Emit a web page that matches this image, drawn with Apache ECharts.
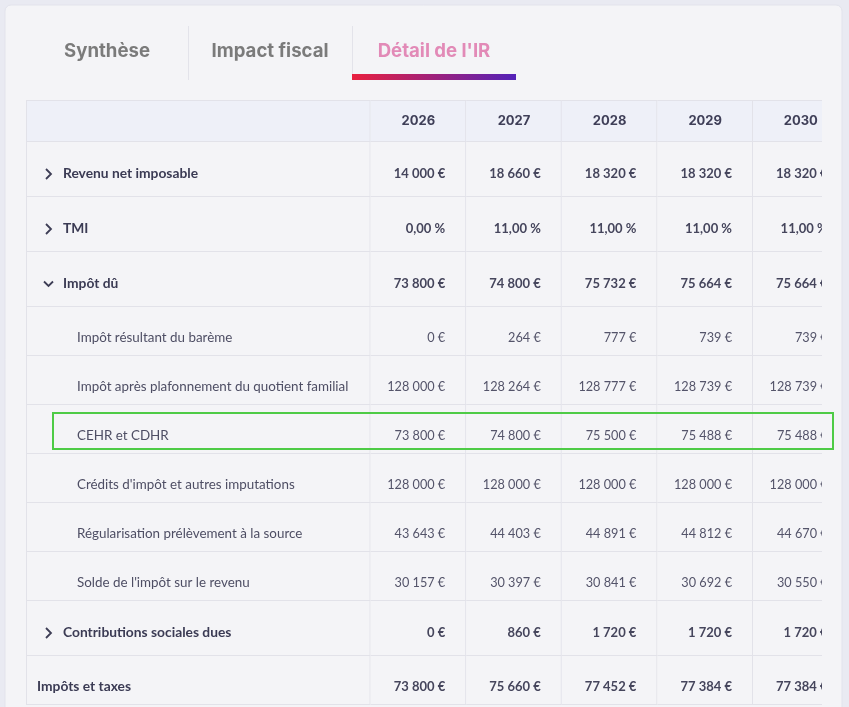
<!DOCTYPE html>
<html>
<head>
<meta charset="utf-8">
<script src="https://cdn.jsdelivr.net/npm/echarts@6/dist/echarts.min.js"></script>
<style>
  html, body { margin: 0; padding: 0; background: #e9eaf2; }
  #chart { width: 849px; height: 707px; }
</style>
</head>
<body>
<div id="chart"></div>
<script>
var tabLabels = ['Synthèse', 'Impact fiscal', "Détail de l'IR"];
var years = ['2026', '2027', '2028', '2029', '2030'];

var rowLabels = [
    'Revenu net imposable',
    'TMI',
    'Impôt dû',
    'Impôt résultant du barème',
    'Impôt après plafonnement du quotient familial',
    'CEHR et CDHR',
    "Crédits d'impôt et autres imputations",
    'Régularisation prélèvement à la source',
    "Solde de l'impôt sur le revenu",
    'Contributions sociales dues',
    'Impôts et taxes'
];
// closed / open = groupe replié ou déplié, child = sous-ligne, total = ligne finale
var rowLevels = ['closed', 'closed', 'open', 'child', 'child', 'child', 'child', 'child', 'child', 'closed', 'total'];
var rowUnits = ['eur', 'pct', 'eur', 'eur', 'eur', 'eur', 'eur', 'eur', 'eur', 'eur', 'eur'];

var revenuNet = [14000, 18660, 18320, 18320, 18320];
var tmi = [0, 11, 11, 11, 11];
var impotDu = [73800, 74800, 75732, 75664, 75664];
var impotBareme = [0, 264, 777, 739, 739];
var impotPlafonnement = [128000, 128264, 128777, 128739, 128739];
var cehrCdhr = [73800, 74800, 75500, 75488, 75488];
var credits = [128000, 128000, 128000, 128000, 128000];
var regularisation = [43643, 44403, 44891, 44812, 44670];
var solde = [30157, 30397, 30841, 30692, 30550];
var contributions = [0, 860, 1720, 1720, 1720];
var impotsTaxes = [73800, 75660, 77452, 77384, 77384];

var rowValues = [revenuNet, tmi, impotDu, impotBareme, impotPlafonnement, cehrCdhr,
    credits, regularisation, solde, contributions, impotsTaxes];

var highlightRow = 5; // CEHR et CDHR

// mise en page (px)
var labelWidth = 344.6;
var colWidth = 95.6;
var headerHeight = 42;
var groupHeight = 55;
var childHeight = 49;
var tableFont = 'Lato';
var lineColor = '#e2e2e9';

function fmtEuro(v) {
    return String(v).replace(/\B(?=(\d{3})+(?!\d))/g, ' ') + ' €';
}
function fmtPct(v) {
    return v.toFixed(2).replace('.', ',') + ' %';
}

// bords des lignes (en px depuis le haut du tableau)
var rowEdges = [0, headerHeight];
rowLevels.forEach(function (lv) {
    var h = (lv == 'child' || lv == 'total') ? childHeight : groupHeight;
    rowEdges.push(rowEdges[rowEdges.length - 1] + h);
});
var tableHeight = rowEdges[rowEdges.length - 1];

function colLeft(c) { return c == 0 ? 0 : labelWidth + (c - 1) * colWidth; }
function colRight(c) { return c == 0 ? labelWidth : labelWidth + c * colWidth; }

var cells = [];
for (var r = 0; r <= rowLabels.length; r++) {
    for (var c = 0; c <= years.length; c++) {
        cells.push([c, r]);
    }
}

function renderCell(params, api) {
    var c = api.value(0), r = api.value(1);
    var p0 = api.coord([colLeft(c), rowEdges[r]]);
    var p1 = api.coord([colRight(c), rowEdges[r + 1]]);
    var x0 = p0[0], y0 = p0[1], x1 = p1[0], y1 = p1[1];
    var children = [];
    children.push({
        type: 'rect',
        shape: { x: x0, y: y0, width: x1 - x0, height: y1 - y0 },
        style: { fill: r == 0 ? '#eef0f8' : '#f4f4f7' }
    });
    var ln = { stroke: lineColor, lineWidth: 1 };
    children.push({ type: 'line', shape: { x1: x0, y1: y1 - 0.5, x2: x1, y2: y1 - 0.5 }, style: ln });
    children.push({ type: 'line', shape: { x1: x1 - 0.5, y1: y0, x2: x1 - 0.5, y2: y1 }, style: ln });
    if (c == 0) children.push({ type: 'line', shape: { x1: x0 + 0.5, y1: y0, x2: x0 + 0.5, y2: y1 }, style: ln });
    if (r == 0) children.push({ type: 'line', shape: { x1: x0, y1: y0 + 0.5, x2: x1, y2: y0 + 0.5 }, style: ln });

    if (r == 0) {
        if (c > 0) {
            children.push({
                type: 'text',
                style: {
                    text: years[c - 1], x: (x0 + x1) / 2, y: y0 + 21,
                    align: 'center', verticalAlign: 'middle',
                    fontFamily: 'Inter', fontWeight: 700, fontSize: 13, fill: '#3f3f58'
                }
            });
        }
        return { type: 'group', children: children };
    }

    var i = r - 1;
    var level = rowLevels[i];
    var bold = level != 'child';
    var ty = y0 + (level == 'child' || level == 'total' ? 30.5 : 32);

    if (c == 0) {
        var tx = 37;
        if (level == 'closed') {
            children.push({
                type: 'polyline',
                shape: { points: [[x0 + 20, ty - 5], [x0 + 25, ty], [x0 + 20, ty + 5]] },
                style: { stroke: '#3d3d55', lineWidth: 1.8, fill: null }
            });
            tx = 63;
        } else if (level == 'open') {
            children.push({
                type: 'polyline',
                shape: { points: [[x0 + 18, ty - 2.5], [x0 + 22.5, ty + 2], [x0 + 27, ty - 2.5]] },
                style: { stroke: '#3d3d55', lineWidth: 1.8, fill: null }
            });
            tx = 63;
        } else if (level == 'child') {
            tx = 77;
        }
        children.push({
            type: 'text',
            style: {
                text: rowLabels[i], x: tx, y: ty,
                align: 'left', verticalAlign: 'middle',
                fontFamily: tableFont, fontWeight: bold ? 700 : 400, fontSize: bold ? 13.8 : 13.4,
                fill: bold ? '#3b3b54' : '#4e4e64'
            }
        });
    } else {
        var v = rowValues[i][c - 1];
        children.push({
            type: 'text',
            style: {
                text: rowUnits[i] == 'pct' ? fmtPct(v) : fmtEuro(v),
                x: x1 - 21, y: ty,
                align: 'right', verticalAlign: 'middle',
                fontFamily: tableFont, fontWeight: bold ? 700 : 400, fontSize: bold ? 13 : 12.7,
                fill: bold ? '#45455c' : '#54546a'
            }
        });
    }
    return { type: 'group', children: children };
}

var hlTop = 100 + rowEdges[highlightRow + 1] + 10;
var hlBottom = 100 + rowEdges[highlightRow + 2] - 5;

var option = {
    animation: false,
    backgroundColor: '#e9eaf2',
    grid: { left: 26, top: 100, width: 796, height: tableHeight },
    xAxis: { type: 'value', min: 0, max: 796, show: false },
    yAxis: { type: 'value', min: 0, max: tableHeight, inverse: true, show: false },
    series: [{
        type: 'custom',
        clip: true,
        renderItem: renderCell,
        encode: { x: 0, y: 1 },
        data: cells
    }],
    graphic: [
        {
            type: 'rect', z: -10,
            shape: { x: 5, y: 5, width: 837, height: 730, r: 6 },
            style: { fill: '#f4f4f7', stroke: '#e2e3ec', lineWidth: 1 }
        },
        {
            type: 'text', z: 10,
            style: { text: tabLabels[0], x: 107, y: 51, align: 'center', verticalAlign: 'middle',
                fontFamily: 'Inter', fontWeight: 700, fontSize: 18.6, fill: '#7b7b7b' }
        },
        {
            type: 'text', z: 10,
            style: { text: tabLabels[1], x: 270, y: 51, align: 'center', verticalAlign: 'middle',
                fontFamily: 'Inter', fontWeight: 700, fontSize: 18.6, fill: '#7b7b7b' }
        },
        {
            type: 'text', z: 10,
            style: { text: tabLabels[2], x: 434, y: 51, align: 'center', verticalAlign: 'middle',
                fontFamily: 'Inter', fontWeight: 700, fontSize: 18.6, fill: '#e28ab7' }
        },
        {
            type: 'line', z: 10,
            shape: { x1: 188.5, y1: 26, x2: 188.5, y2: 80 },
            style: { stroke: '#e3e3ea', lineWidth: 1 }
        },
        {
            type: 'line', z: 10,
            shape: { x1: 352.5, y1: 26, x2: 352.5, y2: 80 },
            style: { stroke: '#e3e3ea', lineWidth: 1 }
        },
        {
            type: 'rect', z: 10,
            shape: { x: 352, y: 74, width: 164, height: 6 },
            style: {
                fill: new echarts.graphic.LinearGradient(0, 0, 1, 0, [
                    { offset: 0, color: '#e9203f' },
                    { offset: 1, color: '#5322b8' }
                ])
            }
        },
        {
            type: 'rect', z: 20,
            shape: { x: 53, y: hlTop - 2, width: 780, height: hlBottom - hlTop + 2 },
            style: { fill: null, stroke: '#4ecb46', lineWidth: 2 }
        }
    ]
};

var myChart = echarts.init(document.getElementById('chart'));
myChart.setOption(option);
</script>
</body>
</html>
